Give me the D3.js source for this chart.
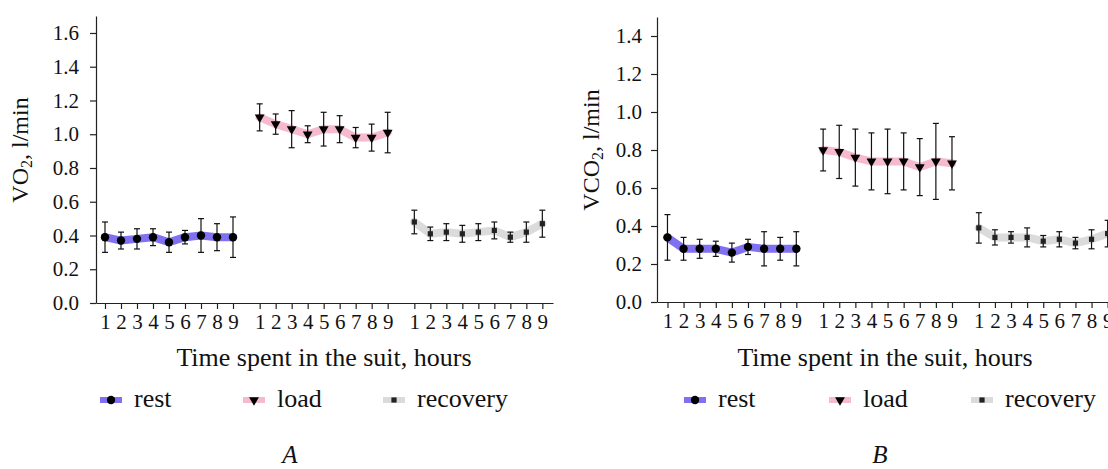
<!DOCTYPE html>
<html>
<head>
<meta charset="utf-8">
<script src="https://cdn.jsdelivr.net/npm/d3@7"></script>
<style>
  body { margin: 0; background: #fff; }
</style>
</head>
<body>
<div id="chart"></div>
<script>
// Chart data
var hours = [1, 2, 3, 4, 5, 6, 7, 8, 9];
var seriesNames = ["rest", "load", "recovery"];

var restVO2 = [0.39, 0.37, 0.38, 0.39, 0.36, 0.39, 0.40, 0.39, 0.39];
var restVO2Err = [0.09, 0.05, 0.06, 0.05, 0.06, 0.04, 0.10, 0.08, 0.12];
var loadVO2 = [1.10, 1.06, 1.03, 1.00, 1.03, 1.03, 0.98, 0.98, 1.01];
var loadVO2Err = [0.08, 0.06, 0.11, 0.05, 0.10, 0.08, 0.06, 0.08, 0.12];
var recoveryVO2 = [0.48, 0.41, 0.42, 0.41, 0.42, 0.43, 0.39, 0.42, 0.47];
var recoveryVO2Err = [0.07, 0.04, 0.05, 0.05, 0.05, 0.05, 0.03, 0.06, 0.08];

var restVCO2 = [0.34, 0.28, 0.28, 0.28, 0.26, 0.29, 0.28, 0.28, 0.28];
var restVCO2Err = [0.12, 0.06, 0.05, 0.04, 0.05, 0.04, 0.09, 0.06, 0.09];
var loadVCO2 = [0.80, 0.79, 0.76, 0.74, 0.74, 0.74, 0.71, 0.74, 0.73];
var loadVCO2Err = [0.11, 0.14, 0.15, 0.15, 0.17, 0.15, 0.15, 0.20, 0.14];
var recoveryVCO2 = [0.39, 0.34, 0.34, 0.34, 0.32, 0.33, 0.31, 0.33, 0.36];
var recoveryVCO2Err = [0.08, 0.04, 0.03, 0.05, 0.03, 0.04, 0.03, 0.05, 0.07];

var vo2Ticks = [0, 0.2, 0.4, 0.6, 0.8, 1.0, 1.2, 1.4, 1.6];
var vco2Ticks = [0, 0.2, 0.4, 0.6, 0.8, 1.0, 1.2, 1.4];

// Styles
var serif = "'Liberation Serif', 'DejaVu Serif', 'Times New Roman', serif";
var lineColors = ["#6a58ee", "#f3a3bc", "#d2d2d2"];
var lineOpacity = [0.85, 0.75, 0.8];
var groupOffset = 29 / 3; // gap between the three groups, in hour units

var svgWidth = 1108;
var svgHeight = 469;

var svg = d3.select("#chart")
    .append("svg")
    .attr("width", svgWidth)
    .attr("height", svgHeight)
    .style("font-family", serif);

// Panel layout
var panels = [
    {
        letter: "A", yLabel: "VO", yLabelRest: ", l/min",
        values: [restVO2, loadVO2, recoveryVO2],
        errors: [restVO2Err, loadVO2Err, recoveryVO2Err],
        ticks: vo2Ticks, yMax: 1.7,
        x0: 96, x1: 553, pMin: -0.5625, pMax: 28,
        y0: 303, yTop: 16.1,
        yLabelX: 20, titleX: 324, letterX: 290,
        legendX: [111, 254, 394], tickPad: 11
    },
    {
        letter: "B", yLabel: "VCO", yLabelRest: ", l/min",
        values: [restVCO2, loadVCO2, recoveryVCO2],
        errors: [restVCO2Err, loadVCO2Err, recoveryVCO2Err],
        ticks: vco2Ticks, yMax: 1.5,
        x0: 657, x1: 1120, pMin: -0.65, pMax: 28.1,
        y0: 302, yTop: 17,
        yLabelX: 591, titleX: 885, letterX: 880,
        legendX: [695, 840, 982], tickPad: 9
    }
];

function drawMarker(g, kind, x, y) {
    if (kind === 0) {
        g.append("circle").attr("cx", x).attr("cy", y).attr("r", 4.2).attr("fill", "#000");
    } else if (kind === 1) {
        g.append("path")
            .attr("d", d3.symbol().type(d3.symbolTriangle).size(42))
            .attr("transform", `translate(${x},${y}) rotate(180)`)
            .attr("fill", "#000");
    } else {
        g.append("rect").attr("x", x - 2.6).attr("y", y - 2.6)
            .attr("width", 5.2).attr("height", 5.2).attr("fill", "#222");
    }
}

panels.forEach(function(p) {
    var g = svg.append("g");

    var x = d3.scaleLinear().domain([p.pMin, p.pMax]).range([p.x0, p.x1]);
    var y = d3.scaleLinear().domain([0, p.yMax]).range([p.y0, p.yTop]);

    // x positions of all 27 ticks
    var positions = [];
    var labels = [];
    seriesNames.forEach(function(s, gi) {
        hours.forEach(function(h, i) {
            positions.push(gi * groupOffset + i);
            labels.push(h);
        });
    });

    var xAxis = g.append("g")
        .attr("transform", `translate(0, ${p.y0})`)
        .call(d3.axisBottom(x)
            .tickValues(positions)
            .tickFormat(function(d, i) { return labels[i]; })
            .tickSize(6).tickSizeOuter(0).tickPadding(5));
    xAxis.attr("font-family", serif);
    xAxis.selectAll("text").style("font-size", "21px").style("font-family", serif).attr("fill", "#111");

    var yAxis = g.append("g")
        .attr("transform", `translate(${p.x0}, 0)`)
        .call(d3.axisLeft(y)
            .tickValues(p.ticks)
            .tickFormat(d3.format(".1f"))
            .tickSize(6).tickSizeOuter(0).tickPadding(p.tickPad));
    yAxis.attr("font-family", serif);
    yAxis.selectAll("text").style("font-size", "21px").style("font-family", serif).attr("fill", "#111");

    g.selectAll(".domain, .tick line").attr("stroke", "#222").attr("stroke-width", 1.2);

    // series lines
    var line = d3.line().x(function(d) { return x(d.p); }).y(function(d) { return y(d.v); });
    p.values.forEach(function(vals, si) {
        var pts = vals.map(function(v, i) { return { p: si * groupOffset + i, v: v, e: p.errors[si][i] }; });

        g.append("path")
            .datum(pts)
            .attr("d", line)
            .attr("fill", "none")
            .attr("stroke", lineColors[si])
            .attr("stroke-opacity", lineOpacity[si])
            .attr("stroke-width", 8)
            .attr("stroke-linejoin", "round")
            .attr("stroke-linecap", "round");

        var eb = g.append("g");
        pts.forEach(function(d) {
            var cx = x(d.p);
            eb.append("line").attr("x1", cx).attr("x2", cx)
                .attr("y1", y(d.v + d.e)).attr("y2", y(d.v - d.e));
            eb.append("line").attr("x1", cx - 3).attr("x2", cx + 3)
                .attr("y1", y(d.v + d.e)).attr("y2", y(d.v + d.e));
            eb.append("line").attr("x1", cx - 3).attr("x2", cx + 3)
                .attr("y1", y(d.v - d.e)).attr("y2", y(d.v - d.e));
        });
        eb.selectAll("line").attr("stroke", "#111").attr("stroke-width", 1.2);

        pts.forEach(function(d) { drawMarker(g, si, x(d.p), y(d.v)); });
    });

    // y label with subscript
    var yl = g.append("text")
        .attr("transform", `translate(${p.yLabelX}, 150) rotate(-90)`)
        .attr("text-anchor", "middle")
        .attr("dominant-baseline", "central")
        .style("font-size", "24px")
        .attr("fill", "#111");
    yl.append("tspan").text(p.yLabel);
    yl.append("tspan").text("2").attr("dy", 6).style("font-size", "16px");
    yl.append("tspan").text(p.yLabelRest).attr("dy", -6);

    // x title
    g.append("text")
        .attr("x", p.titleX).attr("y", 366)
        .attr("text-anchor", "middle")
        .style("font-size", "26px")
        .attr("fill", "#111")
        .text("Time spent in the suit, hours");

    // legend
    seriesNames.forEach(function(s, si) {
        var lx = p.legendX[si];
        g.append("line")
            .attr("x1", lx - 11).attr("x2", lx + 11)
            .attr("y1", 400).attr("y2", 400)
            .attr("stroke", lineColors[si])
            .attr("stroke-opacity", lineOpacity[si])
            .attr("stroke-width", 6);
        drawMarker(g, si, lx, 400);
        g.append("text")
            .attr("x", lx + 23).attr("y", 407)
            .style("font-size", "26px")
            .attr("fill", "#111")
            .text(s);
    });

    // panel letter
    g.append("text")
        .attr("x", p.letterX).attr("y", 463)
        .attr("text-anchor", "middle")
        .style("font-size", "25px")
        .style("font-style", "italic")
        .attr("fill", "#111")
        .text(p.letter);
});
</script>
</body>
</html>
